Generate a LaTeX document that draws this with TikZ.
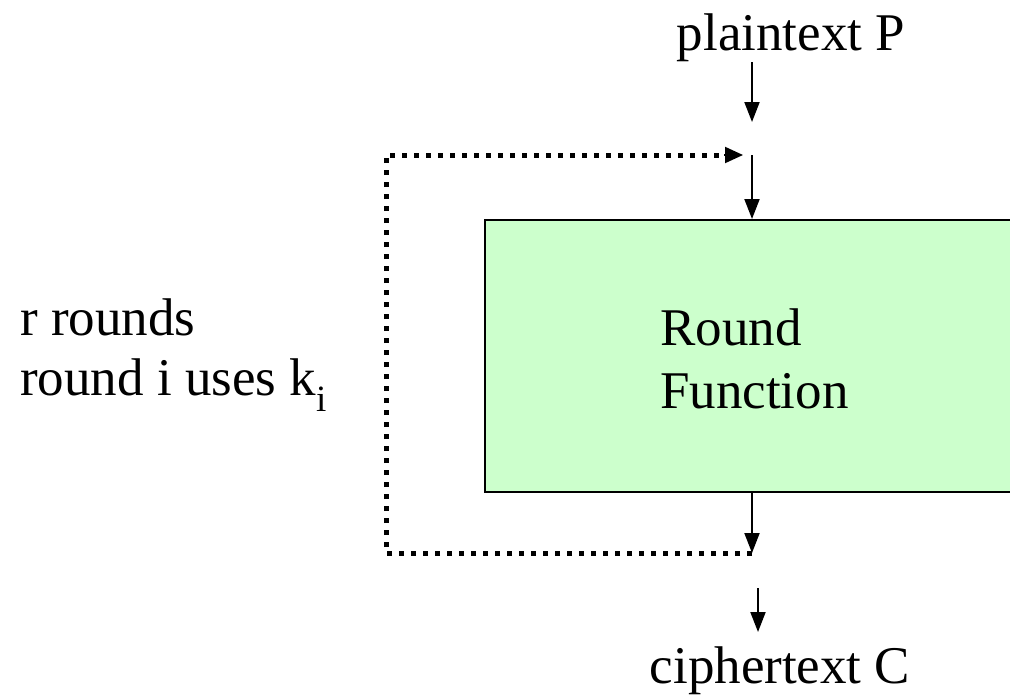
\documentclass[tikz,border=0pt]{standalone}
\usepackage{fontspec}
\setmainfont{Liberation Serif}
\usetikzlibrary{arrows.meta}
\definecolor{roundfill}{HTML}{CCFFCC}
\begin{document}
\begin{tikzpicture}[x=1pt,y=-1pt,
  lbl/.style={font=\fontsize{53}{62}\selectfont, inner sep=0pt},
  flow/.style={line width=2pt, -{Triangle[length=20pt,width=15pt]}},
  loopline/.style={line width=5pt, dash pattern=on 5pt off 7pt},
  looptip/.style={-{Triangle[length=18pt,width=16pt]}}]
\useasboundingbox (0,0) rectangle (1010,694);
\clip (0,0) rectangle (1010,694);

% round function block (runs off the right edge)
\node[draw, line width=2pt, fill=roundfill, anchor=north west,
      minimum width=580pt, minimum height=272pt, inner sep=0pt] (box) at (484,219) {};
\node[lbl, anchor=base west, align=left] (rf) at (660,408) {Round\\[1pt]Function};

% labels
\node[lbl, anchor=base] (ptext) at (791,50) {plaintext P};
\node[lbl, anchor=base] (ctext) at (780,683) {ciphertext C};
\node[lbl, anchor=base west, align=left] (note) at (20,395) {r rounds\\[-2pt]round i uses k\textsubscript{i}};

% junction points
\coordinate (pin) at (752,62);
\coordinate (pout) at (752,122);
\coordinate (tjoin) at (752,155);
\coordinate (ttip) at (743,155);
\coordinate (tl) at (386,155);
\coordinate (bl) at (386,553);
\coordinate (bjoin) at (752,553);
\coordinate (cin) at (758,588);
\coordinate (cout) at (758,632);

% main flow
\draw[flow] (pin) -- (pout);
\draw[flow] (tjoin) -- (box.north -| tjoin);
\draw[flow] (box.south -| bjoin) -- (bjoin);
\draw[flow] (cin) -- (cout);

% feedback loop for the r rounds
\draw[loopline] (bjoin) -- (bl) -- (tl) -- ([xshift=-18pt]ttip);
\draw[line width=2pt, looptip] ([xshift=-19pt]ttip) -- (ttip);
\end{tikzpicture}
\end{document}
